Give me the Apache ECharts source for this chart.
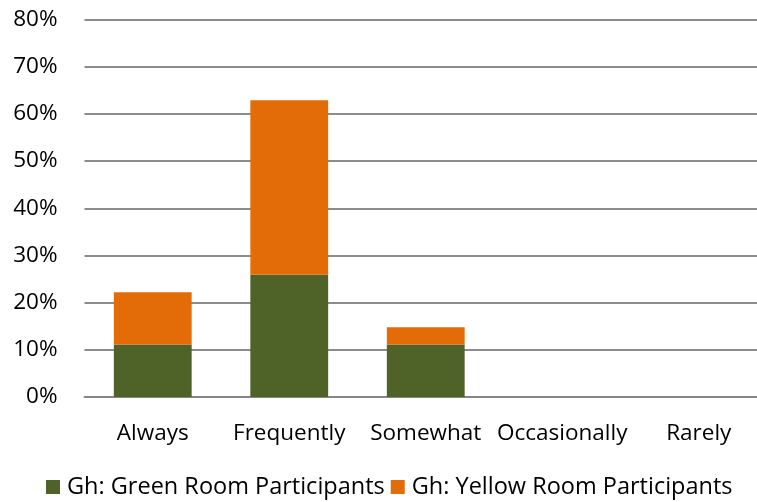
<!DOCTYPE html>
<html>
<head>
<meta charset="utf-8">
<script src="https://cdn.jsdelivr.net/npm/echarts@6/dist/echarts.min.js"></script>
<style>html,body{margin:0;padding:0;background:#fff;overflow:hidden;width:757px;height:502px;}#c{width:767px;height:502px;}</style>
</head>
<body>
<div id="c"></div>
<script>
var categories = ['Always', 'Frequently', 'Somewhat', 'Occasionally', 'Rarely'];
var greenRoom = [0.111, 0.259, 0.111, 0, 0];
var yellowRoom = [0.111, 0.370, 0.037, 0, 0];
var seriesNames = ['Gh: Green Room Participants', 'Gh: Yellow Room Participants'];
var yTicks = [0, 0.1, 0.2, 0.3, 0.4, 0.5, 0.6, 0.7, 0.8];

var font = 'Open Sans';
var fs = 22.5;
var chart = echarts.init(document.getElementById('c'), null, {renderer: 'canvas'});
chart.setOption({
  animation: false,
  textStyle: {fontFamily: font},
  grid: {left: 84.5, top: 19.5, width: 682.5, height: 377.5, containLabel: false},
  legend: {
    data: seriesNames,
    top: 475,
    left: 46,
    padding: 0,
    itemWidth: 14, itemHeight: 14, itemGap: 6,
    icon: 'rect',
    textStyle: {fontFamily: font, fontSize: 23.5, color: '#000', padding: [0, 0, 0, 2]}
  },
  xAxis: {
    type: 'category',
    data: categories,
    axisTick: {show: false},
    axisLine: {lineStyle: {color: '#868686', width: 2}},
    axisLabel: {fontFamily: font, fontSize: fs, color: '#000', margin: 25, interval: 0}
  },
  yAxis: {
    type: 'value',
    min: yTicks[0], max: yTicks[yTicks.length - 1], interval: 0.1,
    axisLine: {show: false},
    axisTick: {show: false},
    splitLine: {lineStyle: {color: '#8c8c8c', width: 2}},
    axisLabel: {fontFamily: font, fontSize: fs, color: '#000', margin: 27,
      formatter: function (v) { return Math.round(v * 100) + '%'; }}
  },
  series: [
    {name: seriesNames[0], type: 'bar', stack: 's', data: greenRoom, barWidth: '57%',
     itemStyle: {color: '#4f6228'}},
    {name: seriesNames[1], type: 'bar', stack: 's', data: yellowRoom, barWidth: '57%',
     itemStyle: {color: '#e36c09'}}
  ]
});
</script>
</body>
</html>
